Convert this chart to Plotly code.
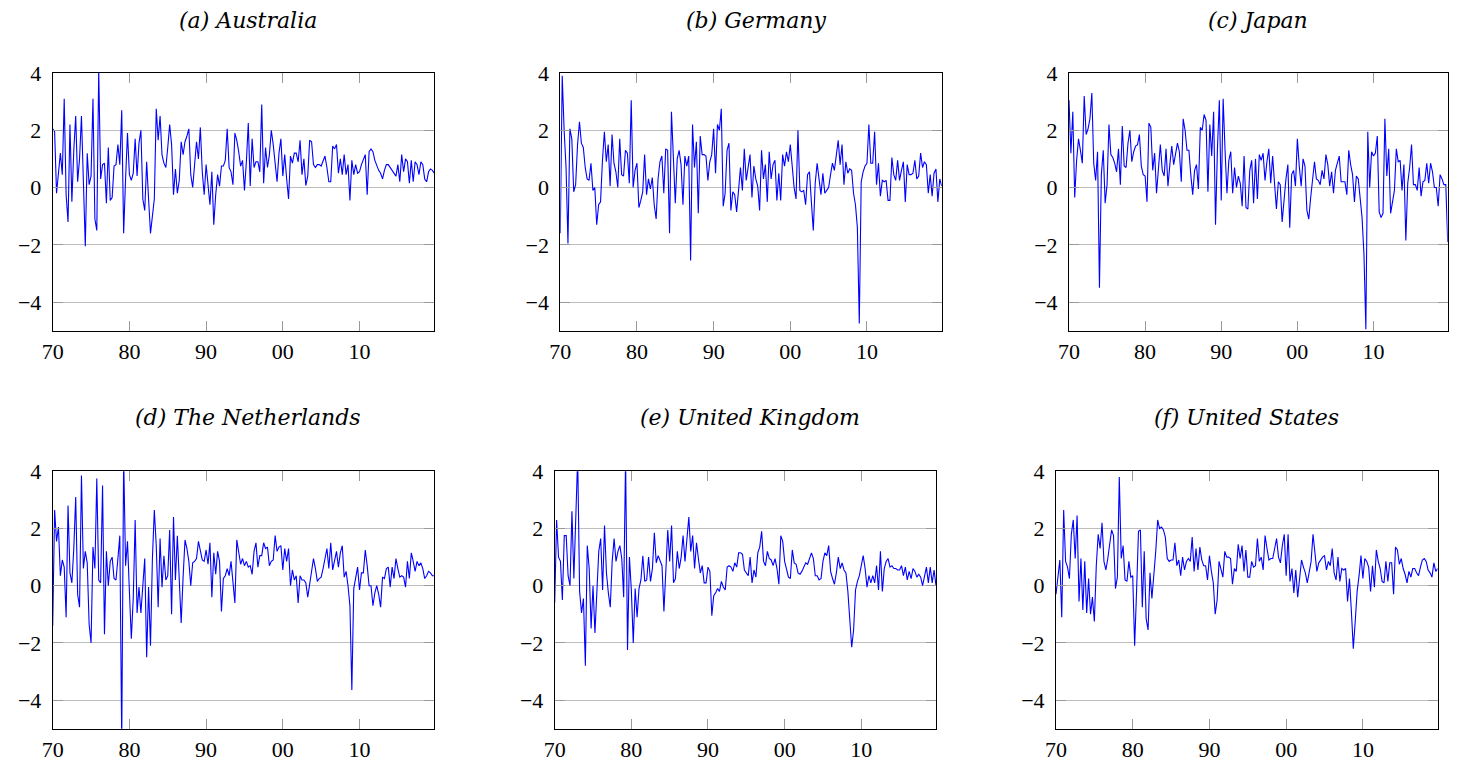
import plotly.graph_objects as go

W, H = 1460, 766

# quarterly observations 1970Q1 .. 2019Q4
quarters = [y + q / 4 for y in range(1970, 2020) for q in range(4)]

australia = [
    2.05, 1.95, -0.2, 0.45, 1.2, 0.45, 3.1, -0.25, -1.2, 2.2,
    -0.5, 1.3, 2.5, 0.2, 1.0, 2.5, 0.3, -2.05, 1.2, 0.1,
    0.4, 3.1, -1.1, -1.5, 4.1, 0.3, 0.8, 0.85, -0.55, 1.4,
    -0.45, -0.35, 0.75, 0.8, 1.5, 0.8, 2.7, -1.6, 0.3, 1.9,
    0.45, 0.25, 0.5, 1.7, 0.4, 1.55, 2.0, -0.4, -0.8, 0.9,
    -0.4, -1.6, -1.0, -0.4, 2.75, 1.65, 2.5, 1.15, 0.85, 0.7,
    1.4, 2.2, 1.5, -0.25, 0.65, -0.2, 0.25, 1.6, 1.15, 1.6,
    1.8, 2.05, 0.45, 0.0, 0.8, 1.6, 1.0, 2.1, 0.55, -0.25,
    0.8, 0.05, -0.6, 0.55, -1.3, -0.25, 0.45, 0.05, 0.75, 0.75,
    0.95, 2.05, 0.7, 0.55, 0.1, 1.9, 1.65, 1.25, 0.75, 0.95,
    -0.1, 0.9, 2.25, 0.05, 1.7, 0.7, 0.9, 0.9, 0.55, 2.9,
    0.15, 1.4, 0.7, 1.15, 2.0, 1.5, 0.8, 0.2, 1.2, 1.7,
    0.4, 1.15, 0.3, -0.4, 1.1, 0.85, 1.2, 1.2, 0.9, 1.65,
    0.45, 1.0, 0.07, 0.4, 1.65, 1.6, 0.8, 0.7, 0.8, 0.8,
    0.75, 0.9, 1.1, 0.7, 0.2, 0.2, 1.45, 1.35, 1.5, 0.5,
    1.0, 0.45, 1.15, 0.45, 0.8, -0.45, 0.95, 0.45, 0.8, 0.5,
    0.55, 0.8, 1.0, 1.15, -0.25, 1.25, 1.35, 1.25, 0.95, 0.75,
    0.6, 0.5, 0.3, 0.6, 0.8, 0.8, 0.7, 0.6, 0.5, 0.4,
    0.8, 0.2, 1.15, 0.55, 1.0, 0.9, 0.15, 0.95, 0.2, 0.9,
    0.8, 0.45, 0.9, 0.8, 0.3, 0.2, 0.55, 0.65, 0.6, 0.5,
]

germany = [
    -1.6, 3.9, 2.0, 0.7, -1.95, 2.05, 1.7, -0.15, 0.1, 1.5,
    2.3, 1.55, 1.4, 0.7, 0.3, 0.25, 0.85, -0.1, 0.0, -1.3,
    -0.6, -0.5, 0.95, 1.95, 0.9, 1.5, 0.05, 1.85, 0.85, 0.55,
    0.0, 1.7, 0.45, 0.4, 1.3, 1.2, 0.15, 3.05, 0.0, 0.6,
    0.85, -0.7, -0.45, -0.15, 1.15, -0.25, 0.3, -0.05, 0.35, -0.6,
    -1.1, 0.3, 0.9, 1.1, -0.2, 1.35, 1.3, -1.6, 2.65, 0.9,
    -0.55, 1.0, 1.3, 0.8, -0.6, 1.1, 0.75, 1.1, -2.55, 2.2,
    0.7, 1.6, -0.9, 1.8, 1.15, 1.15, 1.1, 0.25, 0.9, 1.15,
    2.05, 0.5, 2.2, 2.0, 2.75, -0.65, -0.2, 1.3, 1.55, -0.8,
    -0.15, -0.25, -0.85, -0.1, 0.7, -0.1, 1.35, 0.25, 0.75, 1.15,
    -0.35, 0.75, 0.3, 0.05, -0.8, 1.3, 0.3, 0.8, -0.5, 1.25,
    0.3, 0.8, 0.95, -0.45, 0.5, -0.45, 1.15, 0.75, 1.25, 0.9,
    1.5, 0.8, 0.0, -0.4, 2.0, -0.1, -0.15, -0.1, -0.6, 0.45,
    0.55, -0.5, -1.5, 0.15, 0.85, 0.3, -0.25, 0.5, -0.2, -0.1,
    0.0, 0.45, 0.85, 0.6, 1.1, 1.65, 0.8, 1.5, 0.1, 0.9,
    0.5, 0.65, 0.6, -0.2, -0.6, -1.4, -4.75, 0.2, 0.55, 0.75,
    0.85, 2.2, 0.85, 0.85, 1.95, 0.1, 0.85, -0.3, 0.25, 0.2,
    0.25, -0.45, -0.45, 1.05, 0.45, 0.25, 0.95, 0.25, 0.6, 0.9,
    -0.5, 0.8, 0.45, 0.45, 0.5, 0.95, 0.3, 0.4, 1.2, 0.7,
    0.9, 0.8, -0.2, 0.45, -0.3, 0.5, 0.65, -0.5, 0.3, 0.05,
]

japan = [
    3.05, 1.2, 2.65, -0.35, 0.95, 1.7, 1.3, 0.85, 3.2, 1.85,
    2.05, 2.4, 3.3, 0.85, 0.25, 1.25, -3.5, 0.45, 1.3, -0.55,
    0.1, 2.2, 1.15, 1.05, 0.85, 0.55, 1.35, 0.1, 2.15, 0.75,
    0.7, 1.55, 2.0, 0.9, 1.25, 1.45, 1.5, 1.85, 0.75, 0.45,
    0.4, -0.5, 2.25, 2.1, 0.6, 1.2, -0.2, 0.8, 1.5, 0.6,
    0.4, 1.35, 0.05, 0.8, 1.45, 0.8, 1.2, 1.55, 1.25, 0.2,
    2.4, 2.0, 1.3, 1.3, 0.45, -0.25, 0.6, 0.8, -0.05, 2.1,
    2.0, 2.55, 2.35, -0.15, 2.2, 1.1, 2.65, -1.3, 1.35, 3.05,
    -0.45, 3.1, 1.3, -0.2, 0.95, 1.25, -0.2, 0.7, 0.0, 0.4,
    0.15, -0.65, 1.1, -0.7, -0.75, 0.6, 0.95, -0.55, 1.0, -0.4,
    1.15, 0.95, 1.2, 0.25, 0.9, 1.35, 0.15, 1.1, 0.15, -0.75,
    0.2, 0.1, -1.2, -0.35, 0.3, 0.8, -1.4, 0.45, 0.6, 0.05,
    1.7, 0.75, 0.05, 1.0, 0.75, -0.8, -1.1, -0.35, 0.4, 0.9,
    0.3, 0.25, 0.1, 0.6, 0.3, 1.15, 0.8, 0.05, 0.55, -0.2,
    0.6, 0.85, 1.1, 0.2, 0.2, 0.2, -0.25, 1.3, 0.8, 0.45,
    -0.5, 0.4, 0.3, -0.35, -1.05, -2.35, -4.95, 1.95, 0.0, 1.25,
    1.1, 1.2, 1.8, -0.85, -1.05, -0.9, 2.4, 0.4, 1.35, -0.9,
    -0.45, -0.1, 1.35, 0.9, 0.95, -0.1, 0.8, -1.85, 0.15, 0.7,
    1.5, 0.1, 0.1, -0.1, 0.7, -0.3, 0.2, 0.25, 0.85, 0.15,
    0.85, 0.55, 0.0, 0.0, -0.65, 0.45, 0.3, 0.1, 0.1, -1.9,
]

netherlands = [
    -1.4, 2.65, 1.55, 2.05, 0.35, 0.9, 0.65, -1.1, 2.8, 0.45,
    0.1, 1.3, 3.1, -0.3, -0.75, 3.85, 0.6, 1.2, 0.8, -1.35,
    -2.0, 1.35, 0.6, 3.75, 0.2, 0.1, 3.5, -1.7, 1.2, 0.0,
    0.85, 1.0, 0.25, 0.2, 0.95, 1.75, -5.5, 4.5, 0.7, 1.55,
    -0.2, -1.85, -0.45, 2.3, -0.95, -0.05, -0.95, -0.1, 0.95, -2.5,
    -0.05, -2.1, 0.95, 2.65, 1.4, -0.75, 1.65, -0.05, 1.05, 0.2,
    0.35, 1.95, -1.0, 2.4, 0.2, 1.75, -0.1, -1.3, 0.3, 1.6,
    1.3, 0.85, 0.0, 0.8, 0.85, 0.95, 1.55, 1.25, 0.9, 0.85,
    1.25, 0.75, 1.5, -0.4, 1.15, 0.4, 1.2, 0.85, -0.9, 0.25,
    0.35, 0.6, 0.35, 0.85, 0.1, -0.6, 1.6, 1.2, 0.75, 0.95,
    0.7, 0.85, 0.65, 0.7, 0.4, 1.2, 1.5, 0.65, 1.05, 1.05,
    1.5, 1.3, 1.35, 0.7, 0.85, 0.9, 1.75, 1.2, 1.35, 1.4,
    0.55, 1.3, 0.85, 1.3, 0.0, 0.55, 0.2, 0.35, -0.6, 0.35,
    0.2, 0.2, 0.1, -0.4, 0.0, 0.55, 0.95, 0.6, 0.15, 0.25,
    0.3, 0.6, 1.0, 1.3, 0.6, 1.5, 0.55, 0.85, 1.2, 0.65,
    1.15, 1.4, 0.3, 0.5, 0.0, -0.7, -3.65, -0.1, 0.35, 0.65,
    -0.15, 0.45, 0.45, 1.25, 0.7, 0.0, 0.0, -0.7, -0.25, 0.0,
    -0.3, -0.75, 0.3, 0.25, 0.6, 0.65, -0.05, 0.65, 0.25, 0.95,
    0.6, 0.3, 0.35, 0.3, -0.05, 0.85, 0.25, 1.15, 0.85, 0.5,
    0.85, 0.7, 0.8, 0.6, 0.25, 0.35, 0.5, 0.45, 0.35, 0.35,
]

united_kingdom = [
    -0.6, 2.3, 1.0, 0.85, -0.5, 1.75, 1.75, 0.35, 0.0, 2.6,
    0.25, 2.45, 4.5, -0.2, -0.95, -0.45, -2.8, 1.4, 0.6, -1.5,
    0.0, -1.65, -0.15, 1.2, 1.65, -0.15, 2.1, 0.45, -0.25, -0.75,
    0.85, 1.65, 0.85, 1.2, 1.4, 0.95, -0.4, 4.5, -2.25, 1.0,
    -0.15, -2.0, -0.1, -1.1, -0.1, 0.2, 1.05, 0.15, 0.2, 1.0,
    0.15, 0.6, 1.85, 0.8, 1.05, 0.85, 0.7, -0.9, 0.6, 1.95,
    0.85, 2.1, 0.1, 0.25, 1.2, 0.6, 1.0, 1.75, 0.85, 1.5,
    2.4, 1.2, 1.75, 0.6, 1.5, 0.95, 0.45, 0.7, 0.1, 0.1,
    0.65, 0.5, -1.05, -0.35, -0.25, -0.1, -0.2, 0.15, -0.05, -0.15,
    0.65, 0.7, 0.65, 0.5, 0.8, 0.65, 1.15, 1.15, 1.1, 0.55,
    0.45, 0.35, 1.0, 0.1, 0.55, 0.3, 1.15, 1.35, 1.9, 0.85,
    0.7, 1.2, 0.95, 0.9, 0.7, 0.95, 0.6, 0.05, 1.75, 1.55,
    0.85, 0.6, 0.3, 0.25, 1.25, 0.8, 0.75, 0.45, 0.4, 0.5,
    0.65, 0.8, 0.75, 0.95, 1.15, 0.95, 0.35, 0.35, 0.2, 0.25,
    0.85, 1.15, 1.05, 1.4, 0.5, 0.25, 0.05, 0.45, 1.0, 0.6,
    0.8, 0.55, 0.45, -0.2, -1.25, -2.15, -1.55, -0.15, 0.15, 0.35,
    0.7, 1.05, 0.6, -0.05, 0.35, 0.1, 0.35, 0.1, 0.7, -0.15,
    1.2, -0.2, 0.6, 0.85, 0.95, 0.65, 0.7, 0.6, 0.6, 0.55,
    0.55, 0.7, 0.35, 0.65, 0.2, 0.5, 0.25, 0.6, 0.5, 0.3,
    0.4, 0.3, 0.0, 0.35, 0.65, 0.1, 0.65, 0.1, 0.55, 0.0,
]

united_states = [
    -0.3, 0.3, 0.9, -1.1, 2.65, 0.85, 0.65, 0.25, 1.8, 2.3,
    0.95, 2.45, -0.55, 0.95, -0.85, 0.85, -0.95, 0.25, -1.0, -0.4,
    -1.25, 0.7, 1.8, 1.3, 2.2, 0.85, 0.55, 0.95, 1.55, 1.95,
    1.75, -0.1, 0.3, 3.8, 0.95, 1.4, 0.2, 0.15, 0.85, 0.3,
    0.35, -2.1, -0.2, 1.9, 1.95, -0.75, 1.2, -1.15, -1.55, 0.45,
    -0.45, 0.25, 1.2, 2.3, 2.0, 2.05, 1.95, 1.7, 0.95, 0.85,
    0.9, 0.9, 1.5, 0.7, 0.9, 0.35, 1.0, 0.55, 0.85, 0.95,
    0.85, 1.7, 0.5, 1.3, 0.55, 1.35, 0.9, 0.7, 0.7, 0.2,
    1.05, 0.5, 0.1, -1.0, -0.5, 0.85, 0.55, 0.3, 1.2, 1.0,
    1.0, 0.95, 0.05, 0.6, 0.5, 1.45, 0.95, 1.4, 0.5, 1.25,
    0.3, 0.3, 0.85, 0.65, 0.7, 1.65, 0.85, 1.0, 0.55, 1.75,
    1.3, 0.9, 0.95, 0.95, 1.3, 1.65, 1.0, 0.8, 1.4, 1.8,
    0.35, 1.8, 0.15, 0.6, -0.25, 0.55, -0.4, 0.35, 0.9, 0.65,
    0.45, 0.1, 0.55, 0.85, 1.8, 1.05, 0.5, 0.8, 0.9, 1.0,
    1.05, 0.55, 0.85, 0.7, 1.3, 0.45, 0.2, 1.0, 0.15, 0.6,
    0.55, 0.6, -0.55, 0.25, -0.9, -2.2, -1.25, -0.2, 0.35, 1.05,
    0.25, 0.95, 0.85, 0.65, -0.2, 0.7, -0.05, 1.25, 0.85, 0.6,
    0.15, 0.1, 0.85, 0.15, 0.8, 0.8, -0.3, 1.35, 1.25, 0.75,
    0.95, 0.6, 0.4, 0.1, 0.5, 0.3, 0.6, 0.6, 0.45, 0.35,
    0.65, 0.9, 0.95, 0.85, 0.55, 0.45, 0.3, 0.8, 0.5, 0.6,
]

titles = ["(a) Australia", "(b) Germany", "(c) Japan",
          "(d) The Netherlands", "(e) United Kingdom", "(f) United States"]
x_tick_values = [1970, 1980, 1990, 2000, 2010]
x_tick_labels = ["70", "80", "90", "00", "10"]
y_tick_values = [-4, -2, 0, 2, 4]

all_series = [australia, germany, japan, netherlands, united_kingdom, united_states]

# frame boxes in pixels: (left, right, top, bottom)
boxes = [
    (52.7, 434.3, 73, 330.7),
    (560.3, 941.7, 73, 330.7),
    (1069.0, 1447.7, 73, 330.7),
    (52.7, 434.3, 471.3, 728.7),
    (554.7, 936.0, 471.3, 728.7),
    (1056.0, 1437.7, 471.3, 728.7),
]
title_pos = [(248, 20), (756, 20), (1258, 20), (248, 418), (750, 418), (1246, 418)]

fig = go.Figure()
tick_font = dict(family="Liberation Serif", size=22, color="black")

for k, (vals, box, ttl, tp) in enumerate(zip(all_series, boxes, titles, title_pos), start=1):
    xa = "x" if k == 1 else f"x{k}"
    ya = "y" if k == 1 else f"y{k}"
    fig.add_trace(go.Scatter(x=quarters, y=vals, mode="lines",
                             line=dict(color="#0000ff", width=1.1),
                             xaxis=xa, yaxis=ya, showlegend=False,
                             hoverinfo="skip"))
    l, r, t, b = box
    fig.layout[f"xaxis{'' if k == 1 else k}"] = dict(
        domain=[l / W, r / W], anchor=ya, range=[1970, 2019.75],
        tickvals=x_tick_values, ticktext=x_tick_labels,
        ticks="inside", ticklen=10, tickwidth=1.3, tickcolor="#9a9a9a",
        showline=True, linecolor="black", linewidth=1, mirror="ticks",
        showgrid=False, zeroline=False, tickfont=tick_font,
        ticklabelstandoff=1, automargin=False, fixedrange=True,
    )
    fig.layout[f"yaxis{'' if k == 1 else k}"] = dict(
        domain=[1 - b / H, 1 - t / H], anchor=xa, range=[-5, 4],
        tickvals=y_tick_values,
        ticks="inside", ticklen=10, tickwidth=1.3, tickcolor="#9a9a9a",
        showline=True, linecolor="black", linewidth=1, mirror="ticks",
        showgrid=True, gridcolor="#bdbdbd", gridwidth=1, zeroline=False,
        tickfont=tick_font, ticklabelstandoff=6, automargin=False, fixedrange=True,
    )
    fig.add_annotation(text=f"<i>{ttl}</i>", x=tp[0] / W, y=1 - tp[1] / H,
                       xref="paper", yref="paper", xanchor="center", yanchor="middle",
                       showarrow=False,
                       font=dict(family="DejaVu Serif", size=22, color="black"))

fig.update_layout(width=W, height=H,
                  margin=dict(l=0, r=0, t=0, b=0, pad=0, autoexpand=False),
                  paper_bgcolor="white", plot_bgcolor="white")

fig.write_html("out.html")
